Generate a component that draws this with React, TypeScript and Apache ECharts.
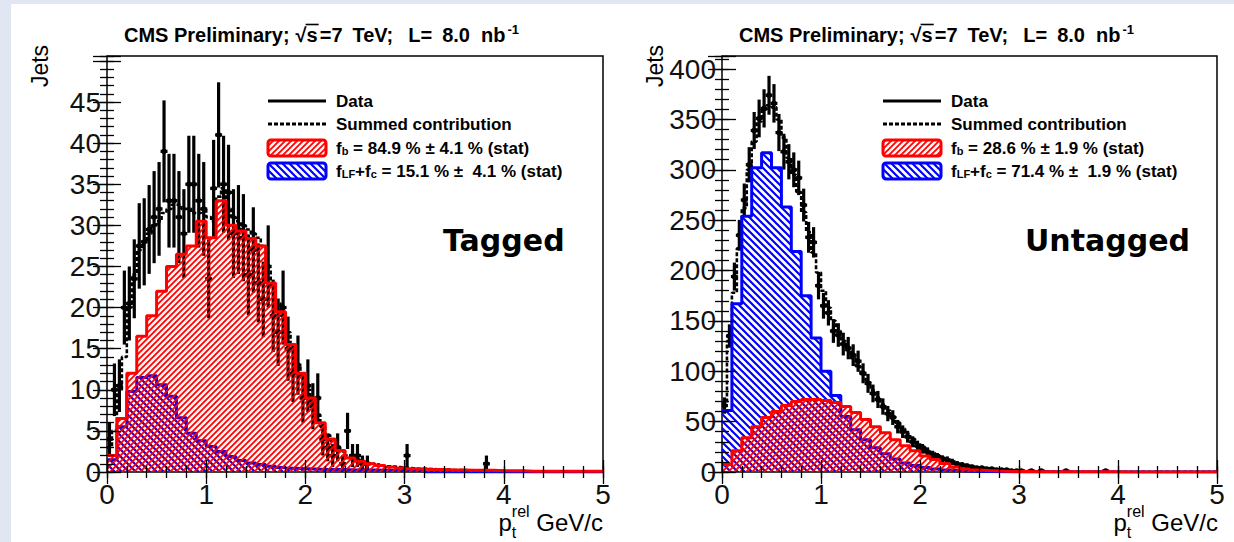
import React, { useEffect, useRef } from "react";
import * as echarts from "echarts";

// ---------------- DATA ----------------
const TEMPLATE_BIN = 0.1; // GeV/c, b and LF+c templates
const FINE_BIN = 0.05; // GeV/c, data and summed contribution

const X_MIN = 0;
const X_MAX = 5;
const X_INTERVAL = 1;
const X_MINOR_INTERVAL = 0.2;

const TAGGED_Y_MAX = 50.6;
const TAGGED_Y_INTERVAL = 5;
const TAGGED_Y_MINOR = 1;
const TAGGED_Y_LAST_LABEL = 45;
const UNTAGGED_Y_MAX = 413;
const UNTAGGED_Y_INTERVAL = 50;
const UNTAGGED_Y_MINOR = 10;
const UNTAGGED_Y_LAST_LABEL = 400;

// Tagged: b template (red), 0.1 bins from 0 to 5
const TAGGED_B = [
  2.0, 6.5, 12.0, 16.5, 19.0, 22.0, 25.0, 26.5, 27.5, 30.5,
  28.5, 33.0, 30.0, 29.3, 28.4, 27.5, 23.0, 19.5, 15.5, 12.0,
  9.0, 6.0, 4.0, 2.6, 1.7, 1.3, 1.0, 0.8, 0.6, 0.5,
  0.4, 0.35, 0.3, 0.3, 0.25, 0.25, 0.2, 0.2, 0.2, 0.15,
  0.15, 0.15, 0.1, 0.1, 0.1, 0.1, 0.1, 0.1, 0.1, 0.1,
];
// Tagged: LF+c template (blue)
const TAGGED_LFC = [
  1.5, 5.5, 9.8, 11.5, 11.7, 10.6, 9.2, 6.6, 4.7, 3.8,
  3.1, 2.5, 1.9, 1.4, 1.1, 0.9, 0.7, 0.55, 0.45, 0.4,
  0.35, 0.3, 0.3, 0.3, 0.25, 0.25, 0.25, 0.2, 0.2, 0.2,
  0.2, 0.15, 0, 0, 0, 0, 0, 0, 0, 0,
  0, 0, 0, 0, 0, 0, 0, 0, 0, 0,
];
// Tagged: summed contribution (dotted), 0.05 bins
const TAGGED_SUM = [
  3, 5, 10, 14, 20, 24, 27, 28, 29, 30,
  30.5, 31.5, 32, 32.5, 32.5, 32, 32, 31.5, 31.5, 32,
  31, 30.5, 33.5, 34.5, 32, 31, 30.5, 30, 29.5, 29,
  28.5, 27.5, 24.5, 22.5, 20.5, 19, 17, 15, 13, 11.5,
  10, 8.5, 7, 5.5, 4.5, 3.8, 3, 2.5, 2, 1.7,
  1.5, 1.3, 1.1, 1.0, 0.9, 0.8, 0.7, 0.65, 0.6, 0.55,
  0.5, 0.45, 0.4, 0.4, 0.35, 0.35, 0.3, 0.3, 0.3, 0.25,
  0.25, 0.25, 0.2, 0.2, 0.2, 0.2, 0.2, 0.15, 0.15, 0.15,
  0.1, 0.1, 0.1, 0.1, 0.1, 0.1, 0.1, 0.1, 0.1, 0.1,
  0.1, 0.1, 0.1, 0.1, 0.1, 0.1, 0.1, 0.1, 0.1, 0.1,
];
// Tagged data: [bin centre, jets, stat. error]
const TAGGED_DATA = [
  [0.025, 4, 2], [0.075, 10, 3.2], [0.125, 10.5, 3.2], [0.175, 20, 4.5],
  [0.225, 20.5, 4.5], [0.275, 23.5, 4.8], [0.325, 27.5, 5.2], [0.375, 28, 5.3],
  [0.425, 29.5, 5.4], [0.475, 31, 5.6], [0.525, 32, 5.7], [0.575, 39, 6.2],
  [0.625, 33, 5.7], [0.675, 33, 5.7], [0.725, 31, 5.6], [0.775, 29, 5.4],
  [0.825, 35, 5.9], [0.875, 35, 5.9], [0.925, 33, 5.7], [0.975, 32, 5.7],
  [1.025, 23.5, 4.8], [1.075, 34.5, 5.9], [1.125, 41, 6.4], [1.175, 35, 5.9],
  [1.225, 34, 5.8], [1.275, 29, 5.4], [1.325, 29.5, 5.4], [1.375, 28.5, 5.3],
  [1.425, 24, 4.9], [1.475, 27, 5.2], [1.525, 23, 4.8], [1.575, 21, 4.6],
  [1.625, 25, 5.0], [1.675, 19, 4.4], [1.725, 17, 4.1], [1.775, 20, 4.5],
  [1.825, 15, 3.9], [1.875, 12, 3.5], [1.925, 13, 3.6], [1.975, 9, 3.0],
  [2.025, 10.5, 3.2], [2.075, 8, 2.8], [2.125, 9, 3.0], [2.175, 4, 2.0],
  [2.225, 3, 1.7], [2.275, 2, 1.4], [2.325, 3, 1.7], [2.375, 1, 1.0],
  [2.425, 5, 2.2], [2.475, 2, 1.4], [2.525, 2, 1.4], [2.575, 1, 1.0],
  [2.625, 1, 1.0], [3.025, 2, 1.4], [3.825, 1, 1.0],
];

// Untagged: b template (red)
const UNTAGGED_B = [
  7.5, 21, 34, 45, 54, 60, 66, 70, 72, 72,
  71, 69, 65, 59, 52, 45, 39, 32, 26, 21,
  16, 12.5, 8.5, 5, 3, 2, 1.4, 1, 0.7, 0.5,
  0.4, 0.3, 0.3, 0.2, 0.2, 0.2, 0.2, 0.15, 0.15, 0.15,
  0.1, 0.1, 0.1, 0.1, 0.1, 0.1, 0.1, 0.1, 0.1, 0.1,
];
// Untagged: LF+c template (blue)
const UNTAGGED_LFC = [
  61, 167, 254, 302, 317, 302, 263, 219, 175, 133,
  100, 76, 55, 42, 32, 24, 18, 13, 9, 6.5,
  4.5, 3, 2, 1.5, 1, 0.7, 0.5, 0.3, 0.2, 0.1,
  0.1, 0.05, 0, 0, 0, 0, 0, 0, 0, 0,
  0, 0, 0, 0, 0, 0, 0, 0, 0, 0,
];
// Untagged: summed contribution (dotted), 0.05 bins
const UNTAGGED_SUM = [
  68, 130, 178, 222, 262, 300, 328, 348, 360, 364,
  362, 350, 332, 312, 295, 278, 258, 238, 218, 198,
  180, 163, 150, 140, 130, 121, 113, 105, 97, 89,
  81, 74, 67, 61, 55, 49, 43, 38, 33, 29,
  25, 22, 19, 16.5, 14, 12, 10, 8.5, 7, 6,
  5, 4.2, 3.5, 3, 2.5, 2.1, 1.8, 1.5, 1.3, 1.1,
  1, 0.9, 0.8, 0.7, 0.6, 0.5, 0.5, 0.4, 0.4, 0.3,
  0.3, 0.3, 0.2, 0.2, 0.2, 0.2, 0.15, 0.15, 0.1, 0.1,
  0.1, 0.1, 0.1, 0.1, 0.1, 0.1, 0.1, 0.1, 0.1, 0.1,
  0.1, 0.1, 0.1, 0.1, 0.1, 0.1, 0.1, 0.1, 0.1, 0.1,
];
// Untagged data: [bin centre, jets, stat. error]
const UNTAGGED_DATA = [
  [0.025, 66, 8.1], [0.075, 135, 11.6], [0.125, 194, 13.9], [0.175, 235, 15.3],
  [0.225, 270, 16.4], [0.275, 305, 17.5], [0.325, 339, 18.4], [0.375, 351, 18.7],
  [0.425, 361, 19.0], [0.475, 374, 19.3], [0.525, 366, 19.1], [0.575, 337, 18.4],
  [0.625, 318, 17.8], [0.675, 308, 17.5], [0.725, 300, 17.3], [0.775, 292, 17.1],
  [0.825, 265, 16.3], [0.875, 233, 15.3], [0.925, 228, 15.1], [0.975, 185, 13.6],
  [1.025, 165, 12.8], [1.075, 158, 12.6], [1.125, 140, 11.8], [1.175, 136, 11.7],
  [1.225, 127, 11.3], [1.275, 123, 11.1], [1.325, 116, 10.8], [1.375, 110, 10.5],
  [1.425, 98, 9.9], [1.475, 88, 9.4], [1.525, 78, 8.8], [1.575, 72, 8.5],
  [1.625, 65, 8.1], [1.675, 58, 7.6], [1.725, 54, 7.3], [1.775, 45, 6.7],
  [1.825, 40, 6.3], [1.875, 35, 5.9], [1.925, 30, 5.5], [1.975, 26, 5.1],
  [2.025, 23, 4.8], [2.075, 20, 4.5], [2.125, 17, 4.1], [2.175, 15, 3.9],
  [2.225, 13, 3.6], [2.275, 12, 3.5], [2.325, 10, 3.2], [2.375, 8, 2.8],
  [2.425, 7, 2.6], [2.475, 6, 2.4], [2.525, 5, 2.2], [2.575, 4, 2.0],
  [2.625, 4, 2.0], [2.675, 3, 1.7], [2.725, 3, 1.7], [2.775, 2, 1.4],
  [2.825, 2, 1.4], [2.875, 2, 1.4], [2.925, 1, 1], [2.975, 1, 1],
  [3.025, 1, 1], [3.125, 1, 1], [3.225, 1, 1], [3.475, 1, 1], [3.875, 1, 1],
];

// Texts
const TITLE_PARTS = ["CMS Preliminary;", "√", "s", "=7", "TeV;", "L=", "8.0", "nb"];
const TITLE_SUP = "-1";
const Y_TITLE = "Jets";
const X_TITLE_MAIN = "p";
const X_TITLE_SUP = "rel";
const X_TITLE_SUB = "t";
const X_TITLE_UNIT = " GeV/c";
const LEGEND_DATA = "Data";
const LEGEND_SUM = "Summed contribution";
const TAGGED_LEGEND_B = "f{s|b} = 84.9 % ± 4.1 % (stat)";
const TAGGED_LEGEND_LFC = "f{s|LF}+f{s|c} = 15.1 % ±  4.1 % (stat)";
const UNTAGGED_LEGEND_B = "f{s|b} = 28.6 % ± 1.9 % (stat)";
const UNTAGGED_LEGEND_LFC = "f{s|LF}+f{s|c} = 71.4 % ±  1.9 % (stat)";
const TAGGED_LABEL = "Tagged";
const UNTAGGED_LABEL = "Untagged";

// ---------------- STYLE ----------------
const FONT = '"Liberation Sans", Arial, Helvetica, sans-serif';
const RED = "#ff0000";
const BLUE = "#0000ff";
// left padding (px) before each title part, mimicking TLatex spacing
const TITLE_PADS = [0, 6, 0, 2, 10, 15, 10, 11];
const TITLE_SIZE = 20;

function stepPoints(vals: number[], w: number) {
  const pts: number[][] = [];
  vals.forEach((v, i) => {
    pts.push([Math.round(i * w * 1000) / 1000, v]);
    pts.push([Math.round((i + 1) * w * 1000) / 1000, v]);
  });
  return pts;
}

function hatch(color: string, dir: number, size: number, lw: number) {
  const c = document.createElement("canvas");
  c.width = size;
  c.height = size;
  const g = c.getContext("2d")!;
  g.strokeStyle = color;
  g.lineWidth = lw;
  g.beginPath();
  if (dir > 0) {
    g.moveTo(0, size); g.lineTo(size, 0);
    g.moveTo(-size / 2, size / 2); g.lineTo(size / 2, -size / 2);
    g.moveTo(size / 2, size * 1.5); g.lineTo(size * 1.5, size / 2);
  } else {
    g.moveTo(0, 0); g.lineTo(size, size);
    g.moveTo(-size / 2, size / 2); g.lineTo(size / 2, size * 1.5);
    g.moveTo(size / 2, -size / 2); g.lineTo(size * 1.5, size / 2);
  }
  g.stroke();
  return { image: c, repeat: "repeat" };
}

let measureCtx: CanvasRenderingContext2D | null = null;
function textWidth(text: string, font: string) {
  if (!measureCtx) measureCtx = document.createElement("canvas").getContext("2d");
  measureCtx!.font = font;
  return measureCtx!.measureText(text).width;
}

export default function App() {
  const ref = useRef<HTMLDivElement>(null);

  useEffect(() => {
    if (!ref.current) return;
    const chart = echarts.init(ref.current, null, { renderer: "svg" });

    const redPat = hatch(RED, 1, 6, 1.8);
    const bluePat = hatch(BLUE, -1, 7, 2.2);

    const grids = [
      { left: 107, top: 56, width: 496, height: 416 },
      { left: 722, top: 56, width: 495, height: 416 },
    ];

    const xAxis: any[] = [];
    const yAxis: any[] = [];
    const yMaxes = [TAGGED_Y_MAX, UNTAGGED_Y_MAX];
    const yInts = [TAGGED_Y_INTERVAL, UNTAGGED_Y_INTERVAL];
    const yMinors = [TAGGED_Y_MINOR, UNTAGGED_Y_MINOR];
    const yLast = [TAGGED_Y_LAST_LABEL, UNTAGGED_Y_LAST_LABEL];
    const tick = { color: "#000", width: 1.3 };
    const hidden = { show: false };
    grids.forEach((_, gi) => {
      ["bottom", "top"].forEach((pos) => {
        xAxis.push({
          type: "value", gridIndex: gi, position: pos,
          min: X_MIN, max: X_MAX, interval: X_INTERVAL,
          axisLine: hidden, splitLine: hidden,
          axisTick: { show: true, inside: true, length: 12, lineStyle: tick },
          axisLabel: pos === "bottom"
            ? { show: true, fontSize: 28, color: "#111", margin: 8, fontFamily: FONT }
            : hidden,
          z: 10,
        });
        xAxis.push({
          type: "value", gridIndex: gi, position: pos,
          min: X_MIN, max: X_MAX, interval: X_MINOR_INTERVAL,
          axisLine: hidden, splitLine: hidden, axisLabel: hidden,
          axisTick: { show: true, inside: true, length: 6, lineStyle: tick },
          z: 10,
        });
      });
      ["left", "right"].forEach((pos) => {
        yAxis.push({
          type: "value", gridIndex: gi, position: pos,
          min: 0, max: yMaxes[gi], interval: yInts[gi],
          axisLine: hidden, splitLine: hidden,
          axisTick: { show: true, inside: true, length: 14, lineStyle: tick },
          axisLabel: pos === "left"
            ? {
                show: true, fontSize: 28, color: "#111", margin: 6, fontFamily: FONT,
                formatter: (v: number) => (v > yLast[gi] ? "" : String(v)),
              }
            : hidden,
          z: 10,
        });
        yAxis.push({
          type: "value", gridIndex: gi, position: pos,
          min: 0, max: yMaxes[gi], interval: yMinors[gi],
          axisLine: hidden, splitLine: hidden, axisLabel: hidden,
          axisTick: { show: true, inside: true, length: 7, lineStyle: tick },
          z: 10,
        });
      });
    });

    const renderErr = (params: any, api: any) => {
      const x = api.value(0), y = api.value(1), e = api.value(2);
      const lo = api.coord([x, Math.max(0, y - e)]);
      const hi = api.coord([x, y + e]);
      const l = api.coord([x - FINE_BIN / 2, y]);
      const r = api.coord([x + FINE_BIN / 2, y]);
      const c = api.coord([x, y]);
      const st = { stroke: "#000", lineWidth: 3.2 };
      return {
        type: "group",
        children: [
          { type: "line", shape: { x1: lo[0], y1: lo[1], x2: hi[0], y2: hi[1] }, style: st },
          { type: "line", shape: { x1: l[0] - 1, y1: c[1], x2: r[0] + 1, y2: c[1] }, style: st },
          { type: "circle", shape: { cx: c[0], cy: c[1], r: 2.8 }, style: { fill: "#000" } },
        ],
      };
    };

    const panels = [
      { data: TAGGED_DATA, sum: TAGGED_SUM, lfc: TAGGED_LFC, b: TAGGED_B },
      { data: UNTAGGED_DATA, sum: UNTAGGED_SUM, lfc: UNTAGGED_LFC, b: UNTAGGED_B },
    ];

    const series: any[] = [];
    panels.forEach((p, gi) => {
      const xi = gi * 4, yi = gi * 4;
      series.push({
        type: "custom", name: "Data", xAxisIndex: xi, yAxisIndex: yi,
        data: p.data, dimensions: ["x", "y", "err"], encode: { x: 0, y: 1 },
        renderItem: renderErr, clip: true, silent: true, z: 2,
      });
      series.push({
        type: "line", name: "Summed contribution", xAxisIndex: xi, yAxisIndex: yi,
        data: stepPoints(p.sum, FINE_BIN), symbol: "none", showSymbol: false,
        lineStyle: { color: "#000", width: 2.6, type: [4, 2] }, silent: true, z: 3, clip: true,
      });
      series.push({
        type: "line", name: "LF+c", xAxisIndex: xi, yAxisIndex: yi,
        data: stepPoints(p.lfc, TEMPLATE_BIN), symbol: "none", showSymbol: false,
        lineStyle: { color: BLUE, width: 3 }, areaStyle: { color: bluePat, opacity: 1 },
        silent: true, z: 4, clip: true,
      });
      series.push({
        type: "line", name: "b", xAxisIndex: xi, yAxisIndex: yi,
        data: stepPoints(p.b, TEMPLATE_BIN), symbol: "none", showSymbol: false,
        lineStyle: { color: RED, width: 3 }, areaStyle: { color: redPat, opacity: 1 },
        silent: true, z: 5, clip: true,
      });
    });

    // ---------- graphics ----------
    const titleFont = `bold ${TITLE_SIZE}px ${FONT}`;
    const sStart = textWidth(TITLE_PARTS[0], titleFont) + TITLE_PADS[1] + textWidth(TITLE_PARTS[1], titleFont);
    const sW = textWidth(TITLE_PARTS[2], titleFont);
    const titleRich: any = {
      u: { fontSize: 13, fontWeight: "bold", fontFamily: FONT, fill: "#000", verticalAlign: "top", lineHeight: 14, padding: [0, 0, 0, 2] },
    };
    let titleText = "";
    TITLE_PARTS.forEach((part, i) => {
      titleRich["p" + i] = {
        fontSize: TITLE_SIZE, fontWeight: "bold", fontFamily: FONT, fill: "#000",
        lineHeight: 24, verticalAlign: "middle", padding: [0, 0, 0, TITLE_PADS[i]],
      };
      titleText += `{p${i}|${part}}`;
    });
    titleText += `{u|${TITLE_SUP}}`;

    const xMainFont = `24px ${FONT}`;
    const xSupFont = `16px ${FONT}`;
    const pW = textWidth(X_TITLE_MAIN, xMainFont);
    const relW = textWidth(X_TITLE_SUP, xSupFont);
    const unitW = textWidth(X_TITLE_UNIT, xMainFont);

    const legends = [
      [TAGGED_LEGEND_B, TAGGED_LEGEND_LFC],
      [UNTAGGED_LEGEND_B, UNTAGGED_LEGEND_LFC],
    ];
    const tags = [TAGGED_LABEL, UNTAGGED_LABEL];
    const tagX = [443, 1025];
    const legStyle = {
      fontSize: 17, fontWeight: "bold", fontFamily: FONT, fill: "#000",
      align: "left", verticalAlign: "middle",
      rich: { s: { fontSize: 11, fontWeight: "bold", fontFamily: FONT, fill: "#000", verticalAlign: "bottom" } },
    };

    const elements: any[] = [
      { type: "rect", shape: { x: 11, y: 4, width: 1223, height: 538 }, style: { fill: "#ffffff" }, z: -100, silent: true },
    ];
    [0, 615].forEach((off, pi) => {
      const tx = 124 + off;
      elements.push({
        type: "text", x: tx, y: 35, z: 100, silent: true,
        style: { text: titleText, align: "left", verticalAlign: "middle", rich: titleRich },
      });
      elements.push({
        type: "line", z: 100, silent: true,
        shape: { x1: tx + sStart - 1, y1: 24.5, x2: tx + sStart + sW + 1, y2: 24.5 },
        style: { stroke: "#000", lineWidth: 1.6 },
      });
      elements.push({
        type: "text", x: 40 + off, y: 66, rotation: Math.PI / 2, z: 100, silent: true,
        style: { text: Y_TITLE, fontSize: 23, fontFamily: FONT, fill: "#000", align: "center", verticalAlign: "middle" },
      });
      const x0 = 603 + off - (pW + relW + unitW);
      elements.push({
        type: "text", x: x0, y: 522, z: 100, silent: true,
        style: { text: X_TITLE_MAIN, fontSize: 24, fontFamily: FONT, fill: "#000", align: "left", verticalAlign: "middle" },
      });
      elements.push({
        type: "text", x: x0 + pW, y: 511, z: 100, silent: true,
        style: { text: X_TITLE_SUP, fontSize: 16, fontFamily: FONT, fill: "#000", align: "left", verticalAlign: "middle" },
      });
      elements.push({
        type: "text", x: x0 + pW, y: 532, z: 100, silent: true,
        style: { text: X_TITLE_SUB, fontSize: 16, fontFamily: FONT, fill: "#000", align: "left", verticalAlign: "middle" },
      });
      elements.push({
        type: "text", x: x0 + pW + relW, y: 522, z: 100, silent: true,
        style: { text: X_TITLE_UNIT, fontSize: 24, fontFamily: FONT, fill: "#000", align: "left", verticalAlign: "middle" },
      });
      const lx = 268 + off, lw = 58, txx = 336 + off;
      const rows = [101, 124, 148, 171];
      elements.push({ type: "line", z: 100, silent: true, shape: { x1: lx, y1: rows[0], x2: lx + lw, y2: rows[0] }, style: { stroke: "#000", lineWidth: 3 } });
      elements.push({ type: "line", z: 100, silent: true, shape: { x1: lx, y1: rows[1], x2: lx + lw, y2: rows[1] }, style: { stroke: "#000", lineWidth: 3, lineDash: [4, 2] } });
      elements.push({ type: "rect", z: 100, silent: true, shape: { x: lx, y: rows[2] - 8, width: lw, height: 16, r: 3 }, style: { fill: redPat, stroke: RED, lineWidth: 3 } });
      elements.push({ type: "rect", z: 100, silent: true, shape: { x: lx, y: rows[3] - 8, width: lw, height: 16, r: 3 }, style: { fill: bluePat, stroke: BLUE, lineWidth: 3 } });
      const texts = [LEGEND_DATA, LEGEND_SUM, legends[pi][0], legends[pi][1]];
      texts.forEach((t, i) => {
        elements.push({ type: "text", x: txx, y: rows[i], z: 100, silent: true, style: { ...legStyle, text: t } });
      });
      elements.push({
        type: "text", x: tagX[pi], y: 240, z: 100, silent: true,
        style: { text: tags[pi], fontSize: 30, fontWeight: "bold", fontFamily: '"DejaVu Sans", sans-serif', fill: "#000", align: "left", verticalAlign: "middle" },
      });
    });

    chart.setOption({
      animation: false,
      backgroundColor: "#e0e6f2",
      grid: grids.map((g) => ({ ...g, show: true, borderColor: "#000", borderWidth: 1.5, backgroundColor: "transparent", containLabel: false })),
      xAxis,
      yAxis,
      series,
      graphic: { elements },
    });

    return () => chart.dispose();
  }, []);

  return <div ref={ref} style={{ position: "fixed", left: 0, top: 0, width: 1234, height: 542 }} />;
}
